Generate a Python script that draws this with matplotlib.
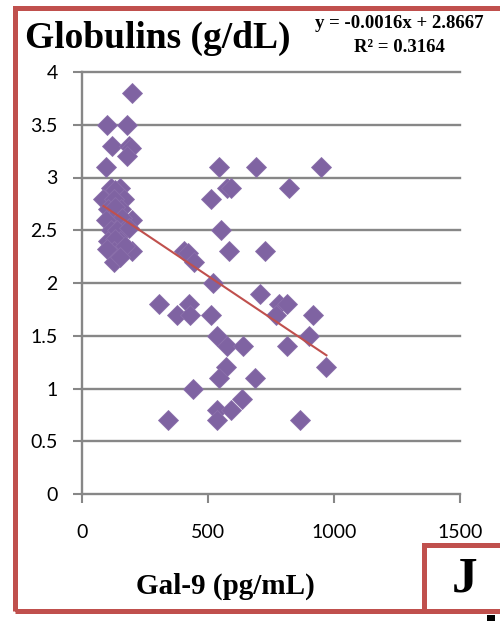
import matplotlib
matplotlib.use("Agg")
import matplotlib.pyplot as plt
from matplotlib.patches import Rectangle
import numpy as np

# ---- data ----
gal9 = [
    # upper part of the low-Gal-9 cluster
    200, 100, 178, 118, 185, 195, 178, 95,
    # dense cluster
    115, 150, 130, 85, 165, 125, 105, 155, 130, 115, 200, 160, 95,
    115, 165, 140, 185, 105, 150, 130, 125, 200, 100, 170, 125, 150,
    # scattered points
    545, 690, 950, 575, 590, 820, 510, 550, 405, 420, 585, 725, 445,
    520, 705, 305, 425, 780, 815, 375, 430, 510, 770, 915, 535, 900,
    575, 640, 815, 570, 970, 545, 685, 440, 635, 535, 590, 340, 535, 865,
]
globulins = [
    3.8, 3.5, 3.5, 3.3, 3.3, 3.28, 3.2, 3.1,
    2.9, 2.9, 2.88, 2.8, 2.8, 2.8, 2.7, 2.7, 2.72, 2.6, 2.6, 2.62, 2.6,
    2.5, 2.5, 2.5, 2.52, 2.4, 2.4, 2.42, 2.3, 2.3, 2.32, 2.35, 2.2, 2.25,
    3.1, 3.1, 3.1, 2.9, 2.9, 2.9, 2.8, 2.5, 2.3, 2.28, 2.3, 2.3, 2.2,
    2.0, 1.9, 1.8, 1.8, 1.8, 1.8, 1.7, 1.7, 1.7, 1.7, 1.7, 1.5, 1.5,
    1.4, 1.4, 1.4, 1.2, 1.2, 1.1, 1.1, 1.0, 0.9, 0.8, 0.8, 0.7, 0.7, 0.7,
]
slope = -0.0016
intercept = 2.8667
r2 = 0.3164

x_ticks = [0, 500, 1000, 1500]
y_ticks = [0, 0.5, 1, 1.5, 2, 2.5, 3, 3.5, 4]
y_tick_labels = ["0", "0.5", "1", "1.5", "2", "2.5", "3", "3.5", "4"]

title = "Globulins (g/dL)"
xlabel = "Gal-9 (pg/mL)"
eq_text = "y = -0.0016x + 2.8667"
r2_text = "R\u00b2 = 0.3164"
panel = "J"

# ---- figure ----
W, H = 500, 621
fig = plt.figure(figsize=(W / 100, H / 100), dpi=100)
fig.patch.set_facecolor("white")

def fx(px):
    return px / W

def fy(py):
    return 1 - py / H

ax = fig.add_axes([fx(82), fy(494), fx(460) - fx(82), fy(72) - fy(494)])
ax.set_xlim(0, 1500)
ax.set_ylim(0, 4)

grid_c = "#878787"
for yv in y_ticks:
    ax.axhline(yv, color=grid_c, lw=1.7, clip_on=False, zorder=1)
for s in ["top", "right", "bottom"]:
    ax.spines[s].set_visible(False)
ax.spines["left"].set_color(grid_c)
ax.spines["left"].set_linewidth(1.7)

ax.set_yticks(y_ticks)
ax.set_yticklabels(y_tick_labels)
ax.set_xticks(x_ticks)
ax.set_xticklabels([str(v) for v in x_ticks])
ax.tick_params(axis="y", length=6.5, width=1.5, color=grid_c, pad=11,
               labelsize=14)
ax.tick_params(axis="x", length=6.5, width=1.5, color=grid_c, pad=15,
               labelsize=14)
for lab in ax.get_xticklabels() + ax.get_yticklabels():
    lab.set_fontfamily("Lato")
    lab.set_color("black")

# scatter
ax.plot(gal9, globulins, linestyle="none", marker="D", markersize=10.5,
        markerfacecolor="#7F63A2", markeredgecolor="#8B70AB",
        markeredgewidth=0.6, zorder=3, clip_on=False)

# trend line
xs = np.array([min(gal9), max(gal9)])
ax.plot(xs, slope * xs + intercept, color="#C0504D", lw=1.5, zorder=4)

# texts
serif = ["Liberation Serif", "DejaVu Serif"]
fig.text(fx(25), fy(38), title, family=serif, weight="bold", fontsize=27,
         ha="left", va="center")
fig.text(fx(399), fy(23), eq_text, family=serif, weight="bold", fontsize=13.5,
         ha="center", va="center")
fig.text(fx(399), fy(47), r2_text, family=serif, weight="bold", fontsize=13.5,
         ha="center", va="center")
fig.text(fx(225), fy(586), xlabel, family=serif, weight="bold", fontsize=21,
         ha="center", va="center")

# frame
red = "#C0504D"
fig.patches.append(Rectangle((fx(15), fy(611)), fx(530) - fx(15),
                             fy(8) - fy(611), transform=fig.transFigure,
                             fill=False, edgecolor=red, lw=3.6, zorder=10))
fig.patches.append(Rectangle((fx(424), fy(611)), fx(540) - fx(424),
                             fy(545) - fy(611), transform=fig.transFigure,
                             facecolor="white", edgecolor=red, lw=3.6,
                             zorder=11))
fig.text(fx(465), fy(580), panel, family=serif, weight="bold", fontsize=37,
         ha="center", va="center", zorder=12)
fig.patches.append(Rectangle((fx(487), fy(621)), fx(495) - fx(487),
                             fy(615) - fy(621), transform=fig.transFigure,
                             facecolor="black", edgecolor="none", zorder=12))

fig.savefig("out.png", dpi=100, facecolor="white")
